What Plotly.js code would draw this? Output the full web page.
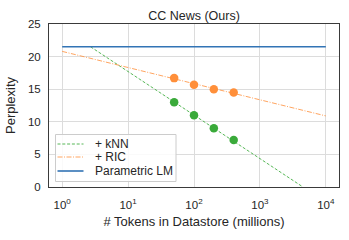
<!DOCTYPE html>
<html>
<head>
<meta charset="utf-8">
<script src="https://cdn.plot.ly/plotly-3.0.1.min.js"></script>
<style>html,body{margin:0;padding:0;background:#fff;}#chart{width:349px;height:240px;}</style>
</head>
<body>
<div id="chart"></div>
<script>
// Datastore sizes (millions of tokens) for measured points
const datastoreSizes = [50, 100, 200, 400];
const knnPerplexity = [13.0, 11.0, 9.0, 7.2];
const ricPerplexity = [16.7, 15.7, 15.0, 14.5];
// Fitted trend lines (endpoints)
const knnFitX = [2.7, 4500];
const knnFitY = [21.5, 0];
const ricFitX = [1, 10000];
const ricFitY = [20.8, 10.9];
// Parametric LM baseline
const paramX = [1, 10000];
const paramY = [21.5, 21.5];
// Tick labels
const xTickVals = [1, 10, 100, 1000, 10000];
const xTickText = ['10<sup>0</sup>', '10<sup>1</sup>', '10<sup>2</sup>', '10<sup>3</sup>', '10<sup>4</sup>'];
const yTickVals = [0, 5, 10, 15, 20, 25];
// Legend labels
const legendLabels = ['+ kNN', '+ RIC', 'Parametric LM'];

const blue = '#3274b5', orange = '#ff8f3a', green = '#3aaa3a';
const knnLine = {color: 'rgba(58,170,58,0.85)', width: 1, dash: '3px,1.8px'};
const ricLine = {color: 'rgba(255,143,58,0.8)', width: 1, dash: '5px,1.5px,1px,1.5px'};
const paramLine = {color: blue, width: 1.6};
const legendStyles = [knnLine, ricLine, paramLine];
const font = 'Liberation Sans, Arial, sans-serif';

const W = 349, H = 240, M = {l: 49, r: 10, t: 24, b: 53};
const PW = W - M.l - M.r, PH = H - M.t - M.b;
const px = X => (X - M.l) / PW;
const py = Y => (H - M.b - Y) / PH;

const traces = [
  {x: knnFitX, y: knnFitY, mode: 'lines', name: legendLabels[0], line: knnLine},
  {x: ricFitX, y: ricFitY, mode: 'lines', name: legendLabels[1], line: ricLine},
  {x: paramX, y: paramY, mode: 'lines', name: legendLabels[2], line: paramLine},
  {x: datastoreSizes, y: knnPerplexity, mode: 'markers', marker: {color: green, size: 8.5}},
  {x: datastoreSizes, y: ricPerplexity, mode: 'markers', marker: {color: orange, size: 8.5}}
];

// custom legend (compact rows as in reference)
const shapes = [{
  type: 'rect', xref: 'paper', yref: 'paper', layer: 'above',
  x0: px(55.5), x1: px(176), y0: py(181.5), y1: py(134.5),
  fillcolor: 'rgba(255,255,255,0.85)', line: {color: '#cccccc', width: 1}
}];
const annotations = [];
const rowY = [144, 157, 171];
legendLabels.forEach((lab, i) => {
  shapes.push({type: 'line', xref: 'paper', yref: 'paper', layer: 'above',
    x0: px(57.5), x1: px(83.5), y0: py(rowY[i]), y1: py(rowY[i]), line: legendStyles[i]});
  annotations.push({xref: 'paper', yref: 'paper', x: px(92.5), y: py(rowY[i]),
    xanchor: 'left', yanchor: 'middle', text: lab, showarrow: false,
    font: {size: 12, color: '#262626'}});
});

const layout = {
  width: W, height: H,
  margin: {l: M.l, r: M.r, t: M.t, b: M.b, pad: 0},
  paper_bgcolor: '#fff', plot_bgcolor: '#fff',
  font: {family: font, size: 11, color: '#262626'},
  showlegend: false,
  title: {text: 'CC News (Ours)', font: {size: 12.5, color: '#262626'}, xref: 'paper', x: 0.5, xanchor: 'center', y: 1 - 15.7 / H, yanchor: 'middle'},
  xaxis: {
    type: 'log', range: [-0.2, 4.2], tickvals: xTickVals, ticktext: xTickText,
    showgrid: true, gridcolor: '#dcdcdc', gridwidth: 1, zeroline: false,
    showline: true, mirror: true, linecolor: '#3a3a3a', linewidth: 1,
    ticks: '', ticklabelstandoff: 7,
    tickfont: {size: 11.5},
    title: {text: '# Tokens in Datastore (millions)', font: {size: 13}, standoff: 7}
  },
  yaxis: {
    range: [0, 25], tickvals: yTickVals,
    showgrid: true, gridcolor: '#dcdcdc', gridwidth: 1, zeroline: false,
    showline: true, mirror: true, linecolor: '#3a3a3a', linewidth: 1,
    ticks: '', ticklabelstandoff: 5,
    tickfont: {size: 11.5},
    title: {text: 'Perplexity', font: {size: 13}, standoff: 9}
  },
  shapes: shapes,
  annotations: annotations
};

Plotly.newPlot('chart', traces, layout, {staticPlot: true, displayModeBar: false});
</script>
</body>
</html>
